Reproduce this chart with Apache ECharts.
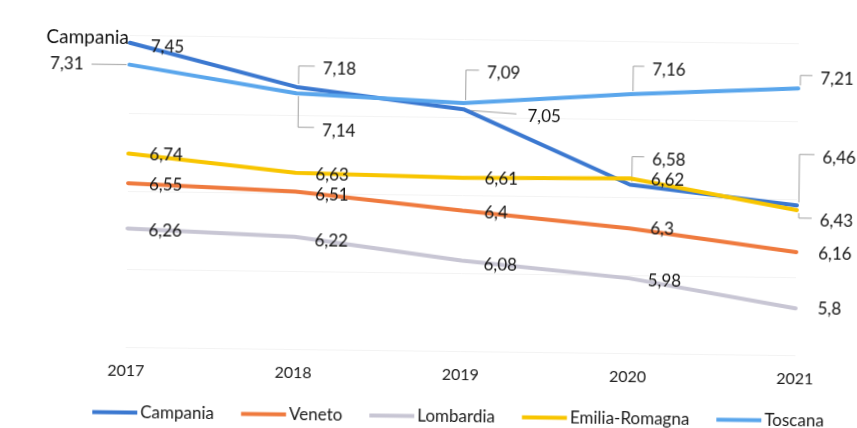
<!DOCTYPE html>
<html>
<head>
<meta charset="utf-8">
<script src="https://cdn.jsdelivr.net/npm/echarts@6/dist/echarts.min.js"></script>
<style>
  html, body { margin: 0; padding: 0; background: #fff; overflow: hidden; }
  #main { width: 857px; height: 428px; transform: rotate(0.7deg); transform-origin: 128px 190px; }
</style>
</head>
<body>
<div id="main"></div>
<script>
  var anni = ['2017', '2018', '2019', '2020', '2021'];
  var campania = [7.45, 7.18, 7.05, 6.58, 6.46];
  var veneto = [6.55, 6.51, 6.4, 6.3, 6.16];
  var lombardia = [6.26, 6.22, 6.08, 5.98, 5.8];
  var emilia = [6.74, 6.63, 6.61, 6.62, 6.43];
  var toscana = [7.31, 7.14, 7.09, 7.16, 7.21];

  var nomi = ['Campania', 'Veneto', 'Lombardia', 'Emilia-Romagna', 'Toscana'];
  var valori = [campania, veneto, lombardia, emilia, toscana];
  var colori = ['#3b78d0', '#ef7a3e', '#c8c6d4', '#f8c500', '#5aa6ec'];

  // spostamento etichette [dx, dy, linea guida]
  var etichette = [
    [[20, 4], [25, -18, 'su'], [63, 6, 'dritta'], [21, -25, 'su'], [24, -48, 'su']],
    [[20, 1], [19, 3], [21, 2], [20, 0], [21, 1]],
    [[20, 2], [19, 4], [21, 4], [18, 2], [21, 0]],
    [[20, 1], [19, 2], [21, 1], [20, 1], [22, 11, 'giu']],
    [[-45, 0, 'sinistra'], [25, 37, 'giu'], [22, -30, 'su'], [20, -25, 'su'], [21, -10, 'su']]
  ];

  var font = 'Lato, "Liberation Sans", sans-serif';
  var virgola = function (p) { return String(p.value).replace('.', ','); };

  var myChart = echarts.init(document.getElementById('main'));

  var series = nomi.map(function (nome, s) {
    var dati = valori[s].map(function (v, i) {
      var e = etichette[s][i];
      if (e[2] === 'sinistra') {
        return { value: v, label: { position: 'left', distance: -e[0], offset: [0, e[1]] } };
      }
      return { value: v, label: { offset: [e[0], e[1]] } };
    });
    var serie = {
      name: nome,
      type: 'line',
      data: dati,
      symbol: 'circle',
      symbolSize: 2,
      showSymbol: true,
      color: colori[s],
      lineStyle: { width: 4, cap: 'round' },
      label: {
        show: true,
        position: 'right',
        distance: 0,
        formatter: virgola,
        fontFamily: font,
        fontSize: 17,
        color: '#151515'
      }
    };
    if (s === 0) {
      serie.markPoint = {
        symbolSize: 0,
        data: [{ coord: [0, campania[0]], value: nome }],
        label: {
          show: true,
          position: 'left',
          distance: 1,
          offset: [0, -5],
          formatter: nome,
          fontFamily: font,
          fontSize: 19,
          color: '#111'
        }
      };
    }
    return serie;
  });

  var option = {
    animation: false,
    grid: { left: 128, right: 60, top: 35, bottom: 81 },
    legend: {
      data: nomi,
      left: 90,
      top: 399,
      icon: 'rect',
      itemWidth: 45,
      itemHeight: 4,
      itemGap: 27,
      textStyle: { fontFamily: font, fontSize: 17, color: '#1a1a1a', padding: [0, 0, 0, -2] }
    },
    xAxis: {
      type: 'category',
      data: anni,
      boundaryGap: false,
      axisLine: { lineStyle: { color: '#f3f3f3' } },
      axisTick: { show: false },
      axisLabel: { margin: 16, fontFamily: font, fontSize: 16, color: '#1a1a1a' }
    },
    yAxis: {
      type: 'value',
      min: 5.5,
      max: 7.5,
      interval: 0.5,
      axisLabel: { show: false },
      axisLine: { show: false },
      axisTick: { show: false },
      splitLine: { lineStyle: { color: '#f3f3f3' } }
    },
    series: series
  };

  myChart.setOption(option);

  // linee guida delle etichette spostate
  var guide = [];
  etichette.forEach(function (riga, s) {
    riga.forEach(function (e, i) {
      if (!e[2]) return;
      var p = myChart.convertToPixel({ seriesIndex: s }, [i, valori[s][i]]);
      var lx = p[0] + e[0], ly = p[1] + e[1];
      var punti;
      if (e[2] === 'su') {
        punti = [[p[0] + 2, p[1] - 3], [p[0] + 2, ly - 3], [lx - 7, ly - 3]];
      } else if (e[2] === 'giu') {
        punti = [[p[0] + 2, p[1] + 3], [p[0] + 2, ly - 3], [lx - 7, ly - 3]];
      } else if (e[2] === 'dritta') {
        punti = [[p[0] + 5, p[1] + 1], [lx - 10, ly - 2]];
      } else {
        punti = [[p[0] - 3, p[1]], [lx + 7, ly]];
      }
      guide.push({
        type: 'polyline',
        z: 1,
        shape: { points: punti },
        style: { stroke: '#a0a0a0', lineWidth: 1, fill: null }
      });
    });
  });
  myChart.setOption({ graphic: guide });
</script>
</body>
</html>
